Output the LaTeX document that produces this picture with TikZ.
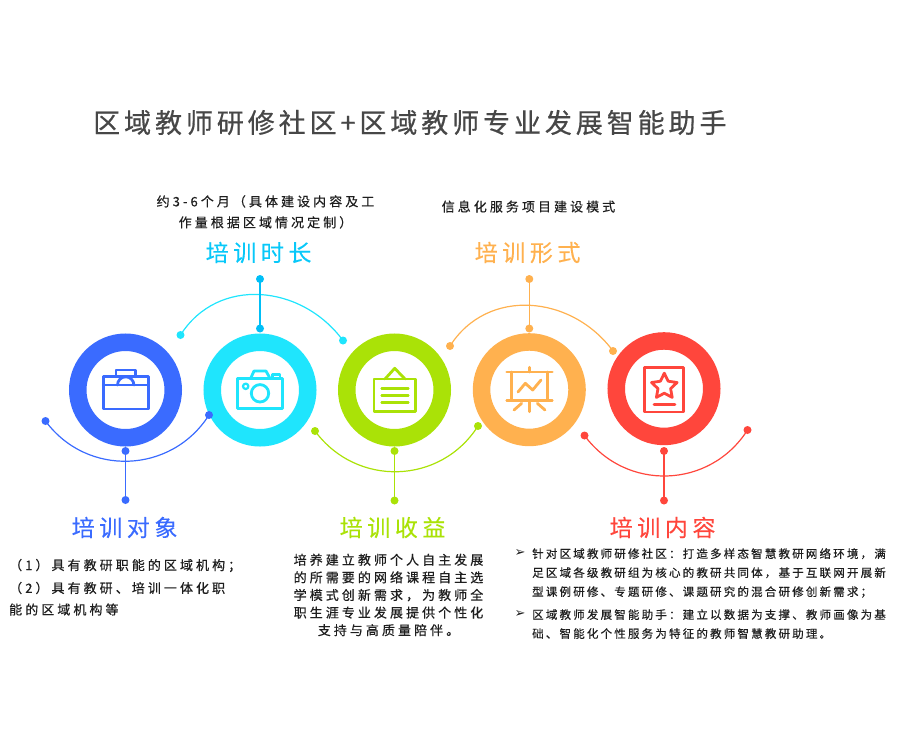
\documentclass[tikz,border=0pt]{standalone}
\usepackage{fontspec}
\setmainfont{Noto Sans CJK SC}
\newfontfamily\titlefont[LetterSpace=14.5,FakeBold=0.5]{Noto Sans CJK SC}
\newfontfamily\headfont[LetterSpace=20,FakeBold=0.2]{Noto Sans CJK SC}
\newfontfamily\bodyfont[LetterSpace=23.5,FakeBold=0.5]{Noto Sans CJK SC}
\newfontfamily\smallfont[LetterSpace=19,FakeBold=0.5]{Noto Sans CJK SC}
\newfontfamily\symfont{DejaVu Sans}
\definecolor{cblue}{HTML}{3A6BFF}
\definecolor{ccyan}{HTML}{1FE5FD}
\definecolor{ccyand}{HTML}{00BFF7}
\definecolor{cgreen}{HTML}{AAE207}
\definecolor{corange}{HTML}{FFB14F}
\definecolor{cred}{HTML}{FF463C}
\definecolor{ctext}{HTML}{1E1E1E}
\tikzset{
  ring/.style={circle,draw=#1,fill=white,line width=17.5pt,minimum size=95.5pt,inner sep=0pt,outer sep=0pt},
  dot/.style={circle,fill=#1,minimum size=8pt,inner sep=0pt,outer sep=0pt},
  curveline/.style={draw=#1,line width=1.2pt},
  stemline/.style={draw=#1,line width=1.5pt},
  icon/.style={draw=#1,line width=2.8pt,line join=round,line cap=round,fill=none},
  titletext/.style={anchor=west,inner sep=0pt,text=black!72,font={\titlefont\fontsize{27}{30}\selectfont}},
  headtext/.style={anchor=west,inner sep=0pt,text=#1,font={\headfont\fontsize{23}{26}\selectfont}},
  bodytext/.style={inner sep=0pt,text=ctext,font={\bodyfont\fontsize{13}{17.6}\selectfont}},
  smalltext/.style={anchor=north west,align=left,inner sep=0pt,text=ctext,font={\smallfont\fontsize{11.5}{19}\selectfont}},
  bullet/.style={inner sep=0pt,text=ctext,font={\symfont\fontsize{13}{14}\selectfont}},
}
\begin{document}
\begin{tikzpicture}[x=1pt,y=-1pt]
\useasboundingbox (0,0) rectangle (900,750);
% title
\node[titletext] (title) at (93,122.5) {区域教师研修社区+区域教师专业发展智能助手};
% rings
\node[ring=cblue] (r1) at (125.5,390) {};
\node[ring=ccyan] (r2) at (260,390) {};
\node[ring=cgreen] (r3) at (394.5,390) {};
\node[ring=corange] (r4) at (529.3,389.7) {};
\node[ring=cred] (r5) at (664,388.7) {};
% blue connectors
\node[dot=cblue] (a1) at (45.5,421) {};
\node[dot=cblue] (b1) at (209,415) {};
\node[dot=cblue] (s1) at (125.5,451) {};
\node[dot=cblue] (e1) at (125.5,500) {};
\draw[curveline=cblue] (a1.center) .. controls +(41.5,56.3) and +(-37.4,58.9) .. (b1.center);
\draw[stemline=cblue] (s1.center) -- (e1.center);
% cyan connectors
\node[dot=ccyan] (a2) at (180.5,335) {};
\node[dot=ccyan] (b2) at (343,340.5) {};
\node[dot=ccyand] (s2) at (260,328.5) {};
\node[dot=ccyand] (e2) at (260,279) {};
\draw[curveline=ccyan] (a2.center) .. controls +(37.4,-58.9) and +(-41.5,-56.3) .. (b2.center);
\draw[stemline=ccyand] (s2.center) -- (e2.center);
% green connectors
\node[dot=cgreen] (a3) at (315,431) {};
\node[dot=cgreen] (b3) at (478,426) {};
\node[dot=cgreen] (s3) at (394.5,451) {};
\node[dot=cgreen] (e3) at (394.5,500.5) {};
\draw[curveline=cgreen] (a3.center) .. controls +(41.5,56.3) and +(-37.4,58.9) .. (b3.center);
\draw[stemline=cgreen] (s3.center) -- (e3.center);
% orange connectors
\node[dot=corange] (a4) at (450,346) {};
\node[dot=corange] (b4) at (613,351) {};
\node[dot=corange] (s4) at (529.3,328.5) {};
\node[dot=corange] (e4) at (529.3,279) {};
\draw[curveline=corange] (a4.center) .. controls +(37.4,-58.9) and +(-41.5,-56.3) .. (b4.center);
\draw[stemline=corange] (s4.center) -- (e4.center);
% red connectors
\node[dot=cred] (a5) at (584.5,435.5) {};
\node[dot=cred] (b5) at (747.5,430) {};
\node[dot=cred] (s5) at (664,451) {};
\node[dot=cred] (e5) at (664,500.5) {};
\draw[curveline=cred] (a5.center) .. controls +(41.5,56.3) and +(-37.4,58.9) .. (b5.center);
\draw[stemline=cred] (s5.center) -- (e5.center);
% briefcase
\draw[icon=cblue] (103.3,376.7) rectangle (148.3,409);
\draw[icon=cblue] (116,376.7) -- (116,370) -- (135.3,370) -- (135.3,376.7);
\draw[icon=cblue] (103.3,385) -- (148.3,385);
\draw[icon=cblue] (117.5,385) arc[start angle=180,end angle=360,radius=8.2];
% camera
\draw[icon=ccyan] (237.7,378.3) rectangle (282.3,408.3);
\draw[icon=ccyan] (250.7,378.3) -- (254,371) -- (266,371) -- (270,378.3);
\draw[icon=ccyan] (272.3,378.3) -- (272.3,374.7) -- (280,374.7) -- (280,378.3);
\draw[icon=ccyan] (260,393.3) circle[radius=8.7];
\draw[icon=ccyan,line width=2.2pt] (245.7,386.3) circle[radius=2.7];
% notice board
\draw[icon=cgreen] (374,379) rectangle (415.7,411.7);
\draw[icon=cgreen] (385,379) -- (394.7,368.3) -- (405,379);
\draw[icon=cgreen] (381.7,388.7) -- (408.3,388.7);
\draw[icon=cgreen] (381.7,395.7) -- (408.3,395.7);
\draw[icon=cgreen] (381.7,402.7) -- (408.3,402.7);
% presentation
\draw[icon=corange] (506.7,372) -- (552.3,372);
\draw[icon=corange] (529.3,367.3) -- (529.3,372);
\draw[icon=corange] (511.7,372) -- (511.7,400.3);
\draw[icon=corange] (547.3,372) -- (547.3,400.3);
\draw[icon=corange] (506.7,400.3) -- (552.3,400.3);
\draw[icon=corange] (529.3,400.3) -- (529.3,411.7);
\draw[icon=corange] (521.7,403.3) -- (514,410);
\draw[icon=corange] (537.3,403.3) -- (545,410);
\draw[icon=corange] (518,392) -- (525.3,383.3) -- (532.7,390) -- (541,380);
% award
\draw[icon=cred] (644.7,367.7) rectangle (683.7,412);
\draw[icon=cred] (654,404.3) -- (675,404.3);
\draw[icon=cred] (664.3,373.2) -- (668.2,381.2) -- (677.1,382.5) -- (670.6,388.6) -- (672.2,397.4) -- (664.3,393.2) -- (656.4,397.4) -- (658,388.6) -- (651.5,382.5) -- (660.4,381.2) -- cycle;
% headings
\node[headtext=cblue] (h1) at (71.5,527.5) {培训对象};
\node[headtext=ccyand!75!ccyan] (h2) at (205.5,252.5) {培训时长};
\node[headtext=cgreen] (h3) at (339.5,527.5) {培训收益};
\node[headtext=corange] (h4) at (474.5,252.5) {培训形式};
\node[headtext=cred] (h5) at (609.5,527.5) {培训内容};
% texts
\node[bodytext,anchor=west] (t1a) at (9,565.5) {（1）具有教研职能的区域机构；};
\node[bodytext,anchor=west] (t1b) at (9,588) {（2）具有教研、培训一体化职};
\node[bodytext,anchor=west] (t1c) at (9,609.5) {能的区域机构等};
\node[bodytext,align=center,anchor=north] (t2) at (265.5,195) {约3-6个月（具体建设内容及工\\[3.4pt]作量根据区域情况定制）};
\node[bodytext,anchor=west] (t4) at (441.5,206.5) {信息化服务项目建设模式};
\node[bodytext,align=center,anchor=north] (t3) at (388.5,553.5) {培养建立教师个人自主发展\\的所需要的网络课程自主选\\学模式创新需求，为教师全\\职生涯专业发展提供个性化\\支持与高质量陪伴。};
\node[bullet] (b1mark) at (520,553) {➢};
\node[smalltext] (t5a) at (532,548) {针对区域教师研修社区：打造多样态智慧教研网络环境，满\\足区域各级教研组为核心的教研共同体，基于互联网开展新\\型课例研修、专题研修、课题研究的混合研修创新需求；};
\node[bullet] (b2mark) at (520,614) {➢};
\node[smalltext] (t5b) at (532,609) {区域教师发展智能助手：建立以数据为支撑、教师画像为基\\础、智能化个性服务为特征的教师智慧教研助理。};
\end{tikzpicture}
\end{document}
